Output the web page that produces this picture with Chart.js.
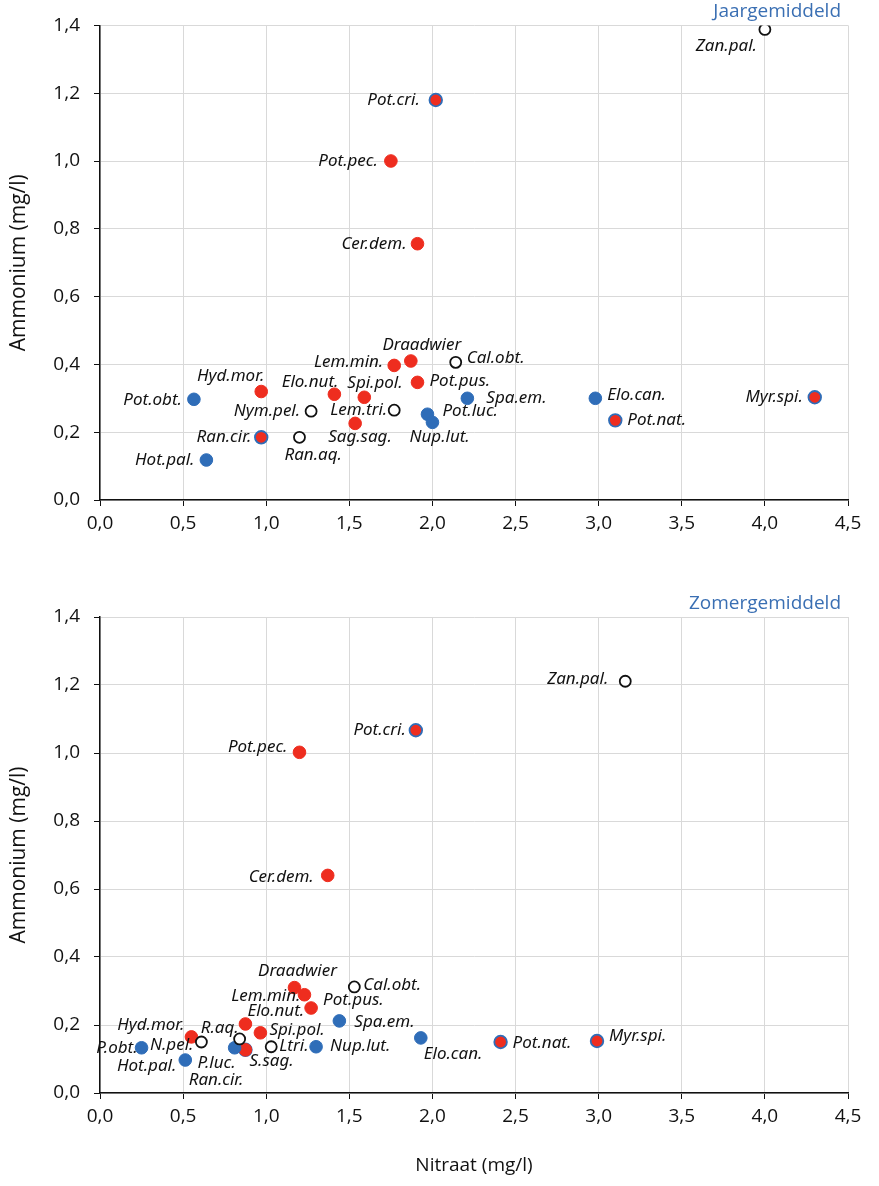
<!DOCTYPE html>
<html>
<head>
<meta charset="utf-8">
<script src="https://cdn.jsdelivr.net/npm/chart.js@4.4.1/dist/chart.umd.min.js"></script>
<style>
  html, body { margin: 0; padding: 0; background: #fff; }
  .box { position: relative; width: 879px; }
  #top { height: 550px; }
  #bottom { height: 636px; }
</style>
</head>
<body>
<div class="box" id="top"><canvas id="cTop"></canvas></div>
<div class="box" id="bottom"><canvas id="cBottom"></canvas></div>
<script>
// type: b = blue, r = red, rb = red with blue edge, o = open
const topNames    = ["Zan.pal.", "Pot.cri.", "Pot.pec.", "Cer.dem.", "Draadwier", "Lem.min.", "Cal.obt.", "Hyd.mor.", "Pot.obt.", "Elo.nut.", "Spi.pol.", "Pot.pus.", "Spa.em.", "Nym.pel.", "Lem.tri.", "Pot.luc.", "Nup.lut.", "Sag.sag.", "Ran.cir.", "Ran.aq.", "Hot.pal.", "Elo.can.", "Pot.nat.", "Myr.spi."];
const topNitraat  = [4.00, 2.02, 1.75, 1.91, 1.87, 1.77, 2.14, 0.97, 0.565, 1.41, 1.59, 1.91, 2.21, 1.27, 1.77, 1.97, 2.00, 1.535, 0.97, 1.20, 0.64, 2.98, 3.10, 4.30];
const topAmmonium = [1.388, 1.18, 1.00, 0.756, 0.41, 0.397, 0.406, 0.32, 0.297, 0.312, 0.303, 0.347, 0.30, 0.262, 0.265, 0.253, 0.229, 0.226, 0.185, 0.185, 0.118, 0.30, 0.235, 0.303];
const topType     = ["o", "rb", "r", "r", "r", "r", "o", "r", "b", "r", "r", "r", "b", "o", "o", "b", "b", "r", "rb", "o", "b", "b", "rb", "rb"];

const botNames    = ["Zan.pal.", "Pot.cri.", "Pot.pec.", "Cer.dem.", "Draadwier", "Lem.min.", "Cal.obt.", "Pot.pus.", "Elo.nut.", "Spa.em.", "Spi.pol.", "R.aq.", "Hyd.mor.", "N.pel.", "P.obt.", "Hot.pal.", "P.luc.", "S.sag.", "Ran.cir.", "Ltri.", "Nup.lut.", "Elo.can.", "Pot.nat.", "Myr.spi."];
const botNitraat  = [3.16, 1.90, 1.20, 1.37, 1.17, 1.23, 1.53, 1.27, 0.875, 1.44, 0.965, 0.84, 0.55, 0.61, 0.25, 0.513, 0.81, 0.875, 0.875, 1.03, 1.30, 1.93, 2.41, 2.99];
const botAmmonium = [1.211, 1.067, 1.002, 0.64, 0.31, 0.289, 0.312, 0.25, 0.203, 0.212, 0.177, 0.159, 0.165, 0.15, 0.133, 0.097, 0.133, 0.127, 0.127, 0.136, 0.136, 0.162, 0.15, 0.153];
const botType     = ["o", "rb", "r", "r", "r", "r", "o", "r", "r", "b", "r", "o", "r", "o", "b", "b", "b", "r", "rb", "o", "b", "b", "rb", "rb"];

const xTicks = [0, 0.5, 1, 1.5, 2, 2.5, 3, 3.5, 4, 4.5];
const yTicks = [0, 0.2, 0.4, 0.6, 0.8, 1.0, 1.2, 1.4];

// label placement relative to the marker: [dx, dy, align]
const topLabelPos = [[-8, 17, "right"], [-16, 0, "right"], [-13, 0, "right"], [-11, 0, "right"], [11, -16, "center"], [-11, -3, "right"], [11, -4, "left"], [3, -15, "right"], [-12, 1, "right"], [4, -12, "right"], [-17, -14, "left"], [12, -1, "left"], [19, 0, "left"], [-11, 0, "right"], [-7, 0, "right"], [15, -3, "left"], [-23, 15, "left"], [-27, 14, "left"], [-10, 0, "right"], [-15, 18, "left"], [-12, 0, "right"], [12, -3, "left"], [12, 0, "left"], [-12, 0, "right"]];
const botLabelPos = [[-17, -2, "right"], [-10, 0, "right"], [-12, -5, "right"], [-14, 2, "right"], [3, -16, "center"], [-4, 1, "right"], [9, -2, "left"], [12, -8, "left"], [2, -13, "left"], [15, 1, "left"], [9, -3, "left"], [-1, -11, "right"], [-7, -12, "right"], [-8, 3, "right"], [-4, 0, "right"], [-9, 6, "right"], [1, 15, "right"], [4, 11, "left"], [-2, 30, "right"], [8, -1, "left"], [14, -1, "left"], [3, 16, "left"], [12, 1, "left"], [12, -5, "left"]];

const BLUE = "#2f6db8";
const RED = "#ee2d1f";
const styles = {
  r:  { backgroundColor: RED, borderColor: RED, borderWidth: 1, pointRadius: 6.3 },
  b:  { backgroundColor: BLUE, borderColor: BLUE, borderWidth: 1, pointRadius: 6.3 },
  rb: { backgroundColor: RED, borderColor: BLUE, borderWidth: 1.8, pointRadius: 6.3 },
  o:  { backgroundColor: "#fff", borderColor: "#111", borderWidth: 1.8, pointRadius: 5.5 }
};
const order = ["o", "b", "r", "rb"];

function buildDatasets(names, xs, ys, types, pos) {
  return order.map(t => {
    const data = [];
    names.forEach((n, i) => {
      if (types[i] === t) data.push({ x: xs[i], y: ys[i], name: n, lp: pos[i] });
    });
    return Object.assign({ data: data, pointHoverRadius: 6 }, styles[t]);
  });
}

const fmt = v => v.toFixed(1).replace(".", ",");
const tickFont = { family: "'Open Sans', sans-serif", size: 19 };

const labelPlugin = {
  id: "pointLabels",
  afterDatasetsDraw(chart) {
    const ctx = chart.ctx;
    ctx.save();
    ctx.font = "italic 17px 'Noto Sans', 'Open Sans', sans-serif";
    ctx.fillStyle = "#111";
    ctx.textBaseline = "middle";
    chart.data.datasets.forEach((ds, di) => {
      const meta = chart.getDatasetMeta(di);
      meta.data.forEach((el, i) => {
        const d = ds.data[i];
        ctx.textAlign = d.lp[2];
        ctx.fillText(d.name, el.x + d.lp[0], el.y + d.lp[1]);
      });
    });
    const t = chart.options.plugins.cornerTitle;
    ctx.font = "19px 'Open Sans', sans-serif";
    ctx.fillStyle = "#3a6fb3";
    ctx.textAlign = "right";
    ctx.textBaseline = "middle";
    ctx.fillText(t.text, t.x, t.y);
    ctx.restore();
  }
};

function makeChart(id, datasets, opts) {
  return new Chart(document.getElementById(id), {
    type: "scatter",
    data: { datasets: datasets },
    plugins: [labelPlugin],
    options: {
      responsive: true,
      maintainAspectRatio: false,
      animation: false,
      layout: { padding: { top: opts.padTop, right: 31, left: 0, bottom: 0 } },
      plugins: {
        legend: { display: false },
        tooltip: { enabled: false },
        cornerTitle: { text: opts.title, x: 841, y: opts.titleY }
      },
      scales: {
        x: {
          type: "linear",
          min: 0, max: 4.5,
          afterBuildTicks: s => { s.ticks = xTicks.map(v => ({ value: v })); },
          afterFit: s => { s.height = opts.xHeight; },
          ticks: { callback: fmt, color: "#111", font: tickFont, padding: 6 },
          grid: { color: "#d9d9d9", tickColor: "#111", tickLength: 6, lineWidth: 1 },
          border: { color: "#111", width: 1.5 },
          title: {
            display: opts.xTitle,
            text: "Nitraat (mg/l)",
            color: "#111",
            font: tickFont,
            padding: { top: 12, bottom: 9 }
          }
        },
        y: {
          type: "linear",
          min: 0, max: 1.4,
          afterBuildTicks: s => { s.ticks = yTicks.map(v => ({ value: v })); },
          afterFit: s => { s.width = 100; },
          ticks: { callback: fmt, color: "#111", font: tickFont, padding: 14 },
          grid: { color: "#d9d9d9", tickColor: "#111", tickLength: 6, lineWidth: 1 },
          border: { color: "#111", width: 1.5 },
          title: {
            display: true,
            text: "Ammonium (mg/l)",
            color: "#111",
            font: { family: "'Open Sans', sans-serif", size: 21 },
            padding: { top: 6, bottom: 0 }
          }
        }
      }
    }
  });
}

makeChart("cTop", buildDatasets(topNames, topNitraat, topAmmonium, topType, topLabelPos),
  { padTop: 22, xHeight: 50, xTitle: false, title: "Jaargemiddeld", titleY: 12 });
makeChart("cBottom", buildDatasets(botNames, botNitraat, botAmmonium, botType, botLabelPos),
  { padTop: 67, xHeight: 93, xTitle: true, title: "Zomergemiddeld", titleY: 54 });
</script>
</body>
</html>
